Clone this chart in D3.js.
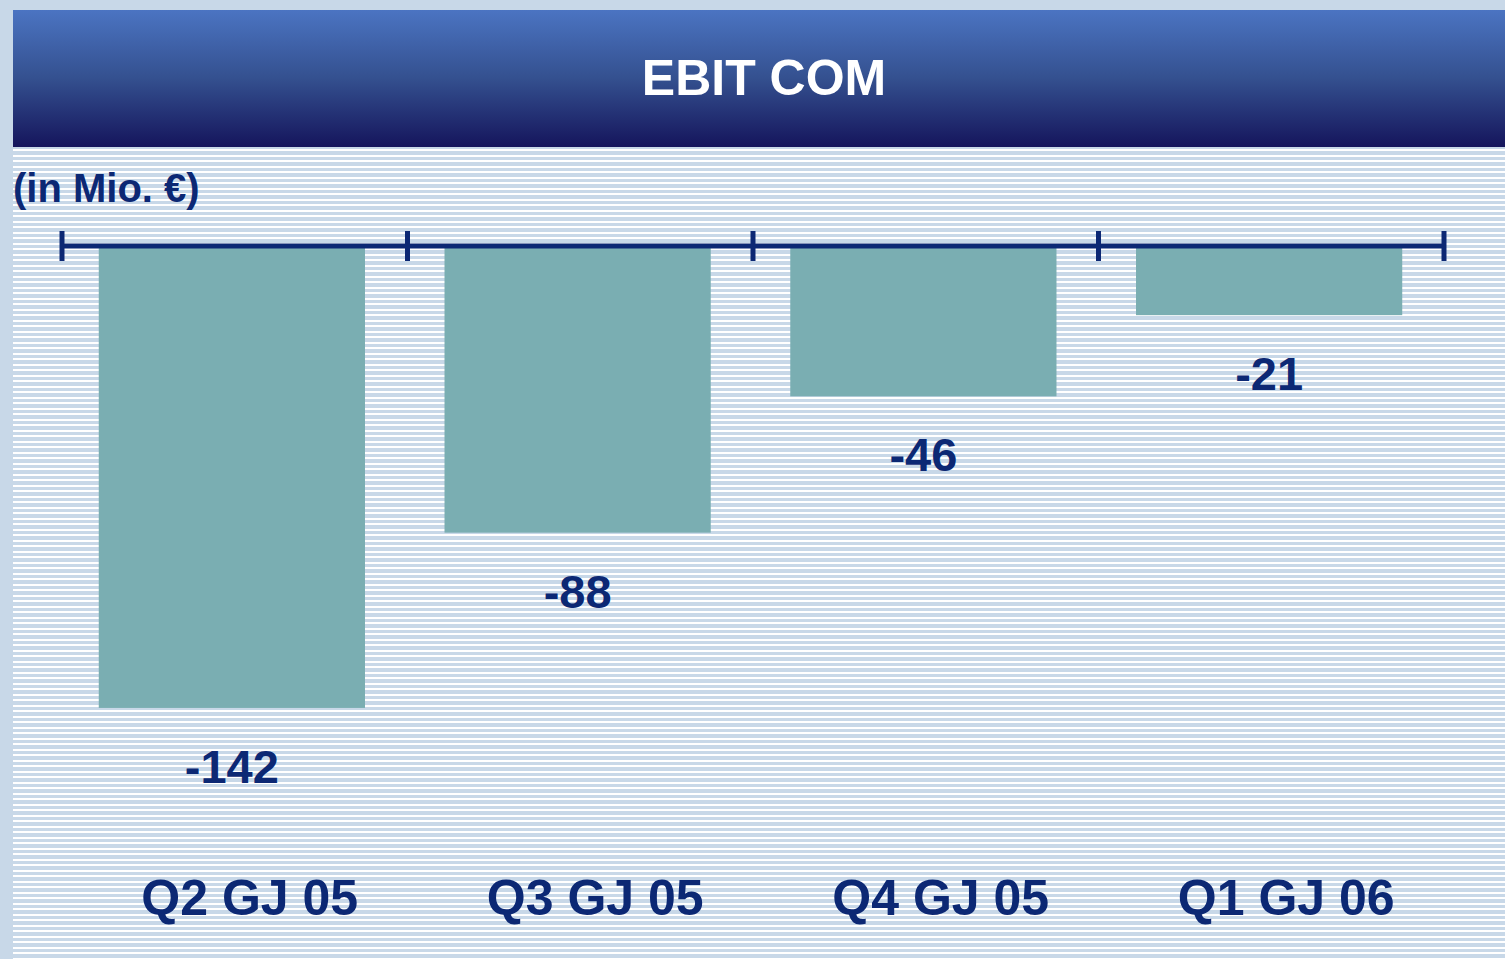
<!DOCTYPE html>
<html>
<head>
<meta charset="utf-8">
<script src="https://cdn.jsdelivr.net/npm/d3@7"></script>
<style>
  html, body { margin: 0; padding: 0; background: #c8d8e8; }
  svg { display: block; }
</style>
</head>
<body>
<svg id="chart" width="1505" height="959"></svg>
<script>
const title = "EBIT COM";
const unitLabel = "(in Mio. €)";
const categories = ["Q2 GJ 05", "Q3 GJ 05", "Q4 GJ 05", "Q1 GJ 06"];
const values = [-142, -88, -46, -21];
const valueLabels = ["-142", "-88", "-46", "-21"];

const W = 1505, H = 959;
const navy = "#0c2874";
const font = "Liberation Sans, Arial, sans-serif";
const svg = d3.select("#chart");
const defs = svg.append("defs");

const grad = defs.append("linearGradient").attr("id", "hdr").attr("x1", 0).attr("x2", 0).attr("y1", 0).attr("y2", 1);
grad.append("stop").attr("offset", "0%").attr("stop-color", "#4b74c2");
grad.append("stop").attr("offset", "50%").attr("stop-color", "#34508f");
grad.append("stop").attr("offset", "100%").attr("stop-color", "#15155c");

const pat = defs.append("pattern").attr("id", "stripes").attr("patternUnits", "userSpaceOnUse")
  .attr("x", 0).attr("y", 0).attr("width", 20).attr("height", 11);
pat.append("rect").attr("width", 20).attr("height", 11).attr("fill", "#c8d8e8");
pat.append("rect").attr("y", 1).attr("width", 20).attr("height", 2).attr("fill", "#ffffff");
pat.append("rect").attr("y", 6).attr("width", 20).attr("height", 2).attr("fill", "#ffffff");

// background
svg.append("rect").attr("width", W).attr("height", H).attr("fill", "#c8d8e8");
svg.append("rect").attr("x", 13).attr("y", 147).attr("width", W - 13).attr("height", H - 147).attr("fill", "url(#stripes)");
svg.append("rect").attr("x", 13).attr("y", 10).attr("width", W - 13).attr("height", 137).attr("fill", "url(#hdr)");

svg.append("text").attr("x", 764).attr("y", 95).attr("text-anchor", "middle")
  .attr("font-family", font).attr("font-weight", "bold")
  .attr("font-size", 50).attr("fill", "#ffffff").text(title);

svg.append("text").attr("x", 13).attr("y", 202)
  .attr("font-family", font).attr("font-weight", "bold")
  .attr("font-size", 40).attr("fill", navy).text(unitLabel);

// scales
const x = d3.scaleBand().domain(categories).range([59, 1442]).paddingInner(0.23).paddingOuter(0.115);
const xb = d3.scaleBand().domain(categories).range([62, 1444]).padding(0);
const y = d3.scaleLinear().domain([0, -150]).range([247, 247 + 150 * 3.246]);

// bars
svg.append("g").selectAll("rect").data(values).join("rect")
  .attr("x", (d, i) => x(categories[i]))
  .attr("width", x.bandwidth())
  .attr("y", y(0))
  .attr("height", d => y(d) - y(0))
  .attr("fill", "#7aaeb2");

// axis line with ticks at band boundaries
const axis = d3.axisTop(xb).tickValues([]).tickSizeOuter(0);
const gAxis = svg.append("g").attr("transform", `translate(0,${y(0) - 1})`).call(axis);
gAxis.select(".domain").attr("stroke", navy).attr("stroke-width", 5).attr("d", `M62,0H1444`);
const bounds = categories.map(c => xb(c)).concat([xb(categories[categories.length - 1]) + xb.bandwidth()]);
gAxis.selectAll("line.bound").data(bounds).join("line").attr("class", "bound")
  .attr("x1", d => d).attr("x2", d => d).attr("y1", -15).attr("y2", 15)
  .attr("stroke", navy).attr("stroke-width", 5);

// value labels
svg.append("g").selectAll("text").data(values).join("text")
  .attr("x", (d, i) => x(categories[i]) + x.bandwidth() / 2)
  .attr("y", d => y(d) + 75)
  .attr("text-anchor", "middle")
  .attr("font-family", font).attr("font-weight", "bold")
  .attr("font-size", 47).attr("fill", navy)
  .text((d, i) => valueLabels[i]);

// category labels
svg.append("g").selectAll("text").data(categories).join("text")
  .attr("x", d => xb(d) + xb.bandwidth() / 2 + 15)
  .attr("y", 915)
  .attr("text-anchor", "middle")
  .attr("font-family", font).attr("font-weight", "bold")
  .attr("font-size", 50).attr("fill", navy)
  .text(d => d);
</script>
</body>
</html>
